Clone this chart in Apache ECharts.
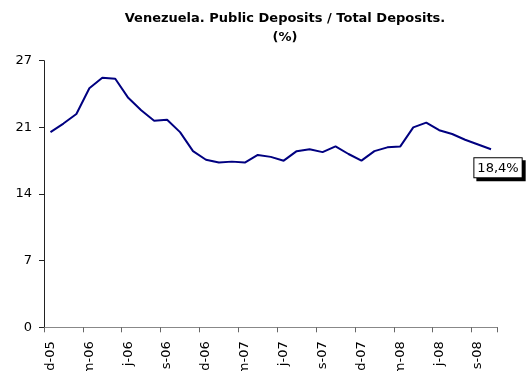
<!DOCTYPE html>
<html>
<head>
<meta charset="utf-8">
<script src="https://cdn.jsdelivr.net/npm/echarts@6/dist/echarts.min.js"></script>
<style>
  html, body { margin: 0; padding: 0; background: #fff; }
  #chart { width: 532px; height: 371px; }
</style>
</head>
<body>
<div id="chart"></div>
<script>
// monthly, Dec 2005 .. Oct 2008
const months = [
    'd-05',
    'e-06', 'f-06', 'm-06', 'a-06', 'm-06', 'j-06', 'j-06', 'a-06', 's-06', 'o-06', 'n-06', 'd-06',
    'e-07', 'f-07', 'm-07', 'a-07', 'm-07', 'j-07', 'j-07', 'a-07', 's-07', 'o-07', 'n-07', 'd-07',
    'e-08', 'f-08', 'm-08', 'a-08', 'm-08', 'j-08', 'j-08', 'a-08', 's-08', 'o-08'
];

const publicShare = [
    20.5, 21.4, 22.4, 25.1, 26.2, 26.1, 24.1, 22.8, 21.7, 21.8, 20.5, 18.5,
    17.6, 17.3, 17.4, 17.3, 18.1, 17.9, 17.5, 18.5, 18.7, 18.4, 19.0, 18.2,
    17.5, 18.5, 18.9, 19.0, 21.0, 21.5, 20.7, 20.3, 19.7, 19.2, 18.7
];

const yTickLabels = ['0', '7', '14', '21', '27'];
const lastLabel = '18,4%';

const FONT = 'DejaVu Sans';

const chart = echarts.init(document.getElementById('chart'));

const seriesData = publicShare.map((v, i) => {
    if (i !== publicShare.length - 1) return v;
    return {
        value: v,
        label: {
            show: true,
            position: 'bottom',
            distance: 9,
            offset: [7, 0],
            formatter: lastLabel,
            fontFamily: FONT,
            fontSize: 13,
            color: '#000',
            lineHeight: 16,
            backgroundColor: '#fff',
            borderColor: '#000',
            borderWidth: 1,
            padding: [2, 3, 1, 3],
            shadowColor: '#000',
            shadowBlur: 0,
            shadowOffsetX: 3,
            shadowOffsetY: 3
        }
    };
});

const option = {
    animation: false,
    title: {
        text: 'Venezuela. Public Deposits / Total Deposits.\n(%)',
        left: 285,
        top: 9,
        padding: 0,
        textAlign: 'center',
        textStyle: {
            fontFamily: FONT,
            fontWeight: 'bold',
            fontSize: 13,
            lineHeight: 19,
            color: '#000'
        }
    },
    grid: {
        left: 44, right: 34.5, top: 60.7, bottom: 43.7,
        containLabel: false,
        outerBoundsMode: 'none'
    },
    xAxis: {
        type: 'category',
        data: months,
        boundaryGap: true,
        axisLine: { lineStyle: { color: '#888', width: 1 } },
        axisTick: { show: true, interval: 2, length: 5, lineStyle: { color: '#666' } },
        axisLabel: {
            interval: 2,
            rotate: 90,
            margin: 14,
            fontFamily: FONT,
            fontSize: 13,
            color: '#000'
        },
        splitLine: { show: false }
    },
    yAxis: {
        type: 'value',
        min: 0,
        max: 28,
        interval: 7,
        axisLine: { show: true, lineStyle: { color: '#222', width: 1 } },
        axisTick: { show: true, length: 5, lineStyle: { color: '#222' } },
        axisLabel: {
            margin: 12,
            fontFamily: FONT,
            fontSize: 13,
            color: '#000',
            formatter: (v) => yTickLabels[Math.round(v / 7)]
        },
        splitLine: { show: false }
    },
    series: [
        {
            name: 'Public / Total deposits',
            type: 'line',
            data: seriesData,
            symbol: 'circle',
            symbolSize: 0,
            showSymbol: true,
            lineStyle: { color: '#000080', width: 2 },
            itemStyle: { color: '#000080' }
        }
    ]
};

chart.setOption(option);
</script>
</body>
</html>
